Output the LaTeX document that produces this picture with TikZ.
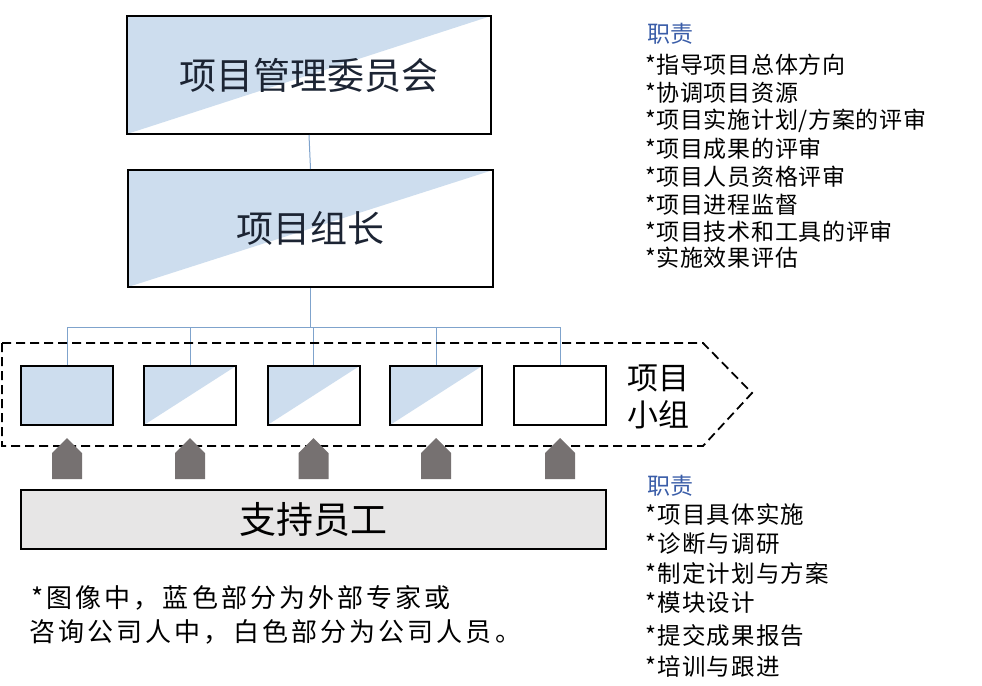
\documentclass[tikz,border=0pt]{standalone}
\usepackage{fontspec}
\setmainfont{Noto Sans CJK SC}
\newfontfamily\notefont[LetterSpace=12]{Noto Sans CJK SC}
\newfontfamily\dutyfont[LetterSpace=3]{Noto Sans CJK SC}
\newfontfamily\dutyfontb[LetterSpace=5]{Noto Sans CJK SC}
\usetikzlibrary{calc}
\definecolor{lblue}{HTML}{CDDDEE}
\definecolor{conncol}{HTML}{7FA3CC}
\definecolor{arrgray}{HTML}{767171}
\definecolor{supgray}{HTML}{E7E6E6}
\definecolor{dutyblue}{HTML}{3A5DA8}
\definecolor{txtdark}{HTML}{1C2433}
\tikzset{
  x=1pt, y=-1pt,
  halfbox/.style={draw=black, line width=2pt, fill=white, inner sep=0pt,
    path picture={\fill[lblue] (path picture bounding box.north west) -- (path picture bounding box.north east) -- (path picture bounding box.south west) -- cycle;}},
  fullbox/.style={draw=black, line width=2pt, fill=lblue, inner sep=0pt},
  whitebox/.style={draw=black, line width=2pt, fill=white, inner sep=0pt},
  bigtext/.style={font=\fontsize{37}{40}\selectfont, text=txtdark},
  conn/.style={draw=conncol, line width=1pt},
  duty/.style={anchor=west, inner sep=0pt, font=\dutyfont\fontsize{23}{26}\selectfont, text=black},
  dutyb/.style={anchor=west, inner sep=0pt, font=\dutyfontb\fontsize{23.5}{26}\selectfont, text=black},
  dutyhead/.style={anchor=west, inner sep=0pt, font=\fontsize{23}{26}\selectfont, text=dutyblue},
  note/.style={anchor=west, inner sep=0pt, font=\notefont\fontsize{26}{30}\selectfont, text=black},
}
\begin{document}
\begin{tikzpicture}
\useasboundingbox (0,0) rectangle (982,685);
% main boxes
\node[halfbox, minimum width=364pt, minimum height=118pt, bigtext] (c) at (309,75) {项目管理委员会};
\node[halfbox, minimum width=365pt, minimum height=117pt, bigtext] (l) at (310.5,228.5) {项目组长};
% team boxes
\node[fullbox, minimum width=92pt, minimum height=59pt] (s1) at (67,395.5) {};
\node[halfbox, minimum width=92pt, minimum height=59pt] (s2) at (190,395.5) {};
\node[halfbox, minimum width=92pt, minimum height=59pt] (s3) at (313.5,395.5) {};
\node[halfbox, minimum width=92pt, minimum height=59pt] (s4) at (436,395.5) {};
\node[whitebox, minimum width=92pt, minimum height=59pt] (s5) at (560,395.5) {};
% connectors
\coordinate (bus) at (312,327);
\draw[conn] (c.south) -- (l.north);
\draw[conn] (l.south) -- (l.south |- bus);
\draw[conn] (s1.north) |- (s5.north |- bus) -- (s5.north);
\foreach \k in {2,3,4} {\draw[conn] (s\k.north) -- (s\k.north |- bus);}
% dashed pentagon
\draw[black, line width=1.8pt, dash pattern=on 9pt off 5pt] (2,343) -- (703,343) -- (752,393) -- (703,446) -- (2,446) -- cycle;
\node[font=\fontsize{31}{37}\selectfont, align=left, inner sep=0pt, text=black] (team) at (658,397) {项目\\小组};
% support box
\node[draw=black, line width=2pt, fill=supgray, minimum width=585pt, minimum height=59pt, inner sep=0pt, bigtext, text=black] (sup) at (313.5,519.5) {支持员工};
% arrows
\foreach \k in {1,...,5} {
  \fill[arrgray] ($(s\k.south)+(-15,53)$) -- ++(0,-26) -- ++(15,-15) -- ++(15,15) -- ++(0,26) -- cycle;
}
% note
\node[note] (n1) at (31,598) {*图像中，蓝色部分为外部专家或};
\node[note] (n2) at (29,632) {咨询公司人中，白色部分为公司人员。};
% duties 1
\node[dutyhead] (h1) at (647,34) {职责};
\node[duty] (a1) at (645,65) {*指导项目总体方向};
\node[duty] (a2) at (645,93) {*协调项目资源};
\node[duty] (a3) at (645,121) {*项目实施计划/方案的评审};
\node[duty] (a4) at (645,149) {*项目成果的评审};
\node[duty] (a5) at (645,177) {*项目人员资格评审};
\node[duty] (a6) at (645,205) {*项目进程监督};
\node[duty] (a7) at (645,232) {*项目技术和工具的评审};
\node[duty] (a8) at (645,258) {*实施效果评估};
% duties 2
\node[dutyhead] (h2) at (647,486) {职责};
\node[dutyb] (b1) at (645,514) {*项目具体实施};
\node[dutyb] (b2) at (645,544) {*诊断与调研};
\node[dutyb] (b3) at (645,574) {*制定计划与方案};
\node[dutyb] (b4) at (645,603) {*模块设计};
\node[dutyb] (b5) at (645,636) {*提交成果报告};
\node[dutyb] (b6) at (645,667) {*培训与跟进};
\end{tikzpicture}
\end{document}
